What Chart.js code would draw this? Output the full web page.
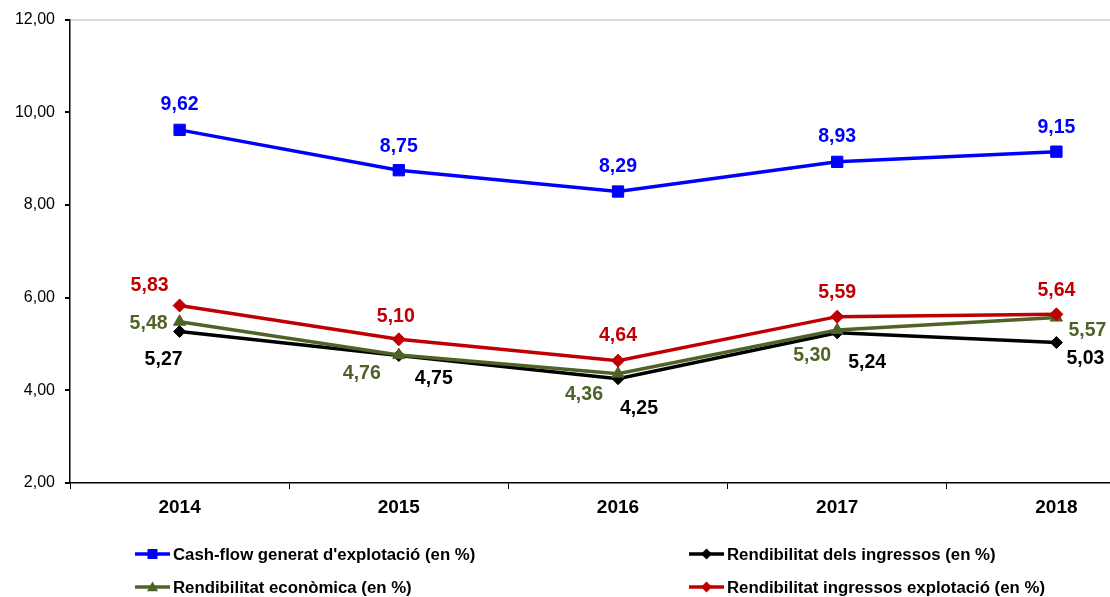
<!DOCTYPE html>
<html>
<head>
<meta charset="utf-8">
<script src="https://cdn.jsdelivr.net/npm/chart.js@4.4.1/dist/chart.umd.min.js"></script>
<style>
  html, body { margin: 0; padding: 0; background: #fff; overflow: hidden; }
  #wrap { position: relative; width: 1166px; height: 597px; }
  #c { display: block; }
</style>
</head>
<body>
<div id="wrap"><canvas id="c" width="1166" height="597" style="width:1166px;height:597px"></canvas></div>
<script>
// ---- data ----
const categories = ['2014', '2015', '2016', '2017', '2018'];
const cashFlow = [9.62, 8.75, 8.29, 8.93, 9.15];
const rendIngressos = [5.27, 4.75, 4.25, 5.24, 5.03];
const rendEconomica = [5.48, 4.76, 4.36, 5.30, 5.57];
const rendExplotacio = [5.83, 5.10, 4.64, 5.59, 5.64];
const seriesNames = [
  "Cash-flow generat d'explotació (en %)",
  "Rendibilitat dels ingressos (en %)",
  "Rendibilitat econòmica (en %)",
  "Rendibilitat ingressos explotació (en %)"
];
const yTicks = [2, 4, 6, 8, 10, 12];

// ---- styles ----
const BLUE = '#0000FF', BLACK = '#000000', GREEN = '#4F6228', RED = '#C00000';
// label offsets (dx, dy) per series per point
const labelOffsets = [
  [[0,-25],[0,-24],[0,-25],[0,-25],[0,-24]],
  [[-16,28],[35,23],[21,30],[30,30],[29,16]],
  [[-31,2],[-37,19],[-34,21],[-25,26],[31,13]],
  [[-30,-20],[-3,-23],[0,-25],[0,-24],[0,-24]]
];
const legendPos = [
  {x:135, y:554}, {x:689, y:554}, {x:135, y:587}, {x:689, y:587}
];

const fmt = v => v.toFixed(2).replace('.', ',');

function drawMarker(ctx, style, x, y, r, color) {
  ctx.save();
  ctx.fillStyle = color;
  ctx.beginPath();
  if (style === 'rect') {
    ctx.rect(x - r, y - r, 2*r, 2*r);
  } else if (style === 'rectRot') {
    ctx.moveTo(x, y - r); ctx.lineTo(x + r, y); ctx.lineTo(x, y + r); ctx.lineTo(x - r, y);
    ctx.closePath();
  } else if (style === 'triangle') {
    ctx.moveTo(x, y - r); ctx.lineTo(x + r, y + r*0.75); ctx.lineTo(x - r, y + r*0.75);
    ctx.closePath();
  }
  ctx.fill();
  ctx.restore();
}

const labelPlugin = {
  id: 'valueLabels',
  afterDatasetsDraw(chart) {
    const ctx = chart.ctx;
    ctx.save();
    ctx.font = 'bold 19.5px "Liberation Sans", Arial, sans-serif';
    ctx.textAlign = 'center';
    ctx.textBaseline = 'middle';
    chart.data.datasets.forEach((ds, i) => {
      const meta = chart.getDatasetMeta(i);
      meta.data.forEach((pt, j) => {
        const off = labelOffsets[i][j];
        ctx.fillStyle = ds.borderColor;
        ctx.fillText(fmt(ds.data[j]), pt.x + off[0], pt.y + off[1]);
      });
    });
    ctx.restore();
  }
};

const legendPlugin = {
  id: 'colLegend',
  afterDraw(chart) {
    const ctx = chart.ctx;
    ctx.save();
    ctx.font = 'bold 16.8px "Liberation Sans", Arial, sans-serif';
    ctx.textAlign = 'left';
    ctx.textBaseline = 'middle';
    chart.data.datasets.forEach((ds, i) => {
      const p = legendPos[i];
      ctx.strokeStyle = ds.borderColor;
      ctx.lineWidth = 3.5;
      ctx.beginPath();
      ctx.moveTo(p.x, p.y); ctx.lineTo(p.x + 35, p.y);
      ctx.stroke();
      drawMarker(ctx, ds.pointStyle, p.x + 17.5, p.y, ds.pointStyle === 'rect' ? 5 : 5.5, ds.borderColor);
      ctx.fillStyle = '#000';
      ctx.fillText(ds.label, p.x + 38, p.y + 1);
    });
    ctx.restore();
  }
};

function mk(label, data, color, style, radius, order) {
  return {
    label, data,
    borderColor: color, backgroundColor: color,
    pointBackgroundColor: color, pointBorderColor: color,
    pointStyle: style, pointRadius: radius, pointHoverRadius: radius,
    pointBorderWidth: 1,
    borderWidth: 3.5, tension: 0, fill: false, order, clip: false
  };
}

new Chart(document.getElementById('c'), {
  type: 'line',
  data: {
    labels: categories,
    datasets: [
      mk(seriesNames[0], cashFlow, BLUE, 'rect', 8, 0),
      mk(seriesNames[1], rendIngressos, BLACK, 'rectRot', 6, 3),
      mk(seriesNames[2], rendEconomica, GREEN, 'triangle', 7, 2),
      mk(seriesNames[3], rendExplotacio, RED, 'rectRot', 6.5, 1)
    ]
  },
  options: {
    responsive: false,
    maintainAspectRatio: false,
    animation: false,
    events: [],
    layout: { autoPadding: false, padding: { top: 19, left: 0, right: 0, bottom: 0 } },
    plugins: { legend: { display: false }, tooltip: { enabled: false } },
    scales: {
      x: {
        offset: true,
        grid: { color: 'transparent', tickColor: '#000', tickLength: 6, offset: true, drawOnChartArea: false },
        border: { color: '#000', width: 1.5 },
        ticks: { color: '#000', padding: 7, font: { family: '"Liberation Sans", Arial, sans-serif', size: 19, weight: 'bold' } },
        afterFit: s => { s.height = 114; }
      },
      y: {
        min: 2, max: 12,
        afterBuildTicks: s => { s.ticks = yTicks.map(v => ({ value: v })); },
        grid: {
          color: c => (c.tick && c.tick.value === 12) ? '#d9d9d9' : 'transparent',
          lineWidth: 2,
          tickColor: '#000', tickLength: 5
        },
        border: { color: '#000', width: 1.5 },
        ticks: { color: '#000', padding: 10, callback: v => fmt(v), font: { family: '"Liberation Sans", Arial, sans-serif', size: 16 } },
        afterFit: s => { s.width = 70; }
      }
    }
  },
  plugins: [labelPlugin, legendPlugin]
});
</script>
</body>
</html>
